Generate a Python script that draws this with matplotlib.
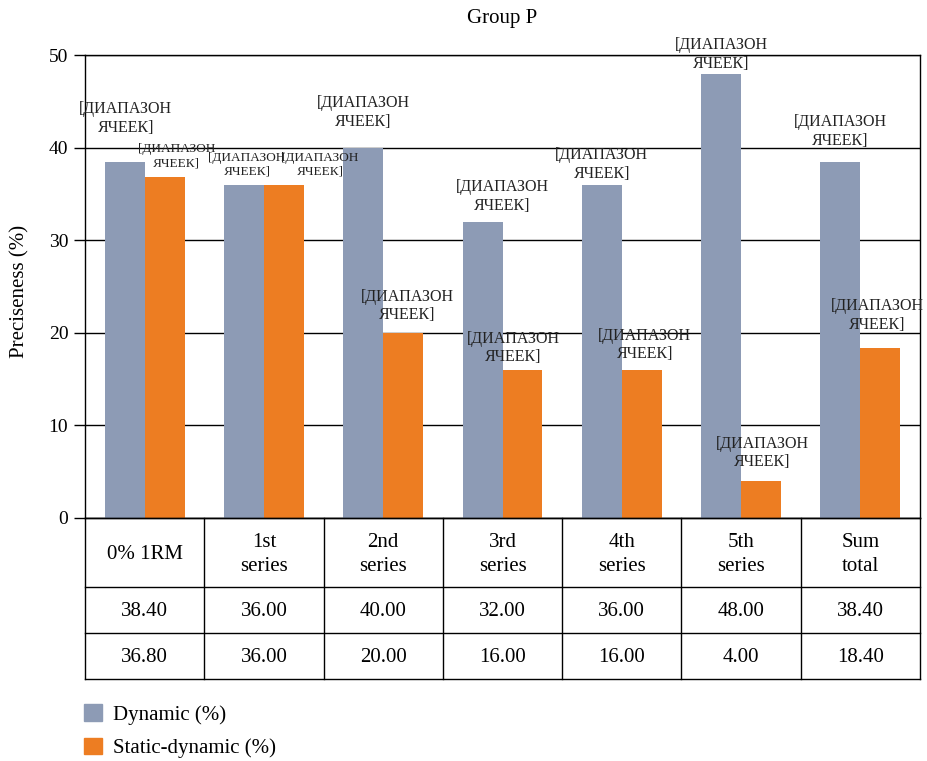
import matplotlib
matplotlib.use("Agg")
import matplotlib.pyplot as plt
import numpy as np
from matplotlib.patches import Patch

# ── Data ──────────────────────────────────────────
categories = ["0% 1RM", "1st\nseries", "2nd\nseries", "3rd\nseries",
              "4th\nseries", "5th\nseries", "Sum\ntotal"]
dynamic = [38.40, 36.00, 40.00, 32.00, 36.00, 48.00, 38.40]
static_dynamic = [36.80, 36.00, 20.00, 16.00, 16.00, 4.00, 18.40]
series_names = ["Dynamic (%)", "Static-dynamic (%)"]
label_text = "[ДИАПАЗОН\nЯЧЕЕК]"

# ── Style ─────────────────────────────────────────
BLUE = "#8D9BB5"
ORANGE = "#ED7D22"
FONT = "Liberation Serif"
plt.rcParams["font.family"] = [FONT, "DejaVu Serif"]

# data-label offsets (pixels, from bar top) and sizes, as placed in the original
dyn_off = [(1, 44), (3, 20), (0, 35), (20, 25), (0, 20), (0, 19), (0, 31)]
dyn_size = [11.5, 9.5, 11.5, 11.5, 11.5, 11.5, 11.5]
sta_off = [(12, 21), (36, 20), (4, 27), (-9, 22), (3, 25), (1, 28), (-3, 32)]
sta_size = [9.5, 9.5, 11.5, 11.5, 11.5, 11.5, 11.5]

fig = plt.figure(figsize=(9.27, 7.61), dpi=100)
ax = fig.add_axes([85 / 927, 1 - 518 / 761, 835 / 927, 463 / 761])

x = np.arange(len(categories))
w = 0.335
ax.bar(x - w / 2, dynamic, w, color=BLUE, zorder=2)
ax.bar(x + w / 2, static_dynamic, w, color=ORANGE, zorder=2)

for i in range(len(categories)):
    ax.annotate(label_text, xy=(x[i] - w / 2, dynamic[i]), xytext=dyn_off[i],
                textcoords="offset pixels", ha="center", va="center",
                fontsize=dyn_size[i], color="#222222", zorder=3)
    ax.annotate(label_text, xy=(x[i] + w / 2, static_dynamic[i]), xytext=sta_off[i],
                textcoords="offset pixels", ha="center", va="center",
                fontsize=sta_size[i], color="#222222", zorder=3)

ax.set_xlim(-0.5, len(categories) - 0.5)
ax.set_ylim(0, 50)
ax.set_yticks([0, 10, 20, 30, 40, 50])
ax.tick_params(axis="y", direction="out", length=8, width=1, labelsize=14, pad=4)
ax.set_xticks([])
ax.grid(axis="y", color="black", linewidth=1, zorder=1)
ax.set_axisbelow(True)
for spine in ax.spines.values():
    spine.set_color("black")
    spine.set_linewidth(1)

ax.set_ylabel("Preciseness (%)", fontsize=15)
ax.yaxis.set_label_coords(-0.066, 0.49)
fig.text(502 / 927, 1 - 18 / 761, "Group P", ha="center", va="center", fontsize=15)

# ── Data table under the axis ─────────────────────
trans = ax.get_xaxis_transform()
rows = [0, -69 / 463, -115 / 463, -161 / 463]
for yy in rows:
    ax.plot([-0.5, len(categories) - 0.5], [yy, yy], transform=trans,
            color="black", lw=1, clip_on=False)
for k in range(len(categories) + 1):
    ax.plot([k - 0.5, k - 0.5], [0, rows[-1]], transform=trans,
            color="black", lw=1, clip_on=False)

cell_rows = [categories,
             [f"{v:.2f}" for v in dynamic],
             [f"{v:.2f}" for v in static_dynamic]]
for r, texts in enumerate(cell_rows):
    ymid = (rows[r] + rows[r + 1]) / 2 - 2 / 463
    for i, t in enumerate(texts):
        ax.text(x[i], ymid, t, transform=trans, ha="center", va="center",
                fontsize=15, linespacing=1.3, clip_on=False)

# ── Legend ────────────────────────────────────────
handles = [Patch(color=BLUE), Patch(color=ORANGE)]
fig.legend(handles, series_names, loc="upper left",
           bbox_to_anchor=(84 / 927, 1 - 704 / 761), frameon=False,
           fontsize=15, handlelength=0.87, handleheight=0.87,
           handletextpad=0.5, labelspacing=0.62, borderpad=0, borderaxespad=0)

fig.savefig("out.png", dpi=100)
